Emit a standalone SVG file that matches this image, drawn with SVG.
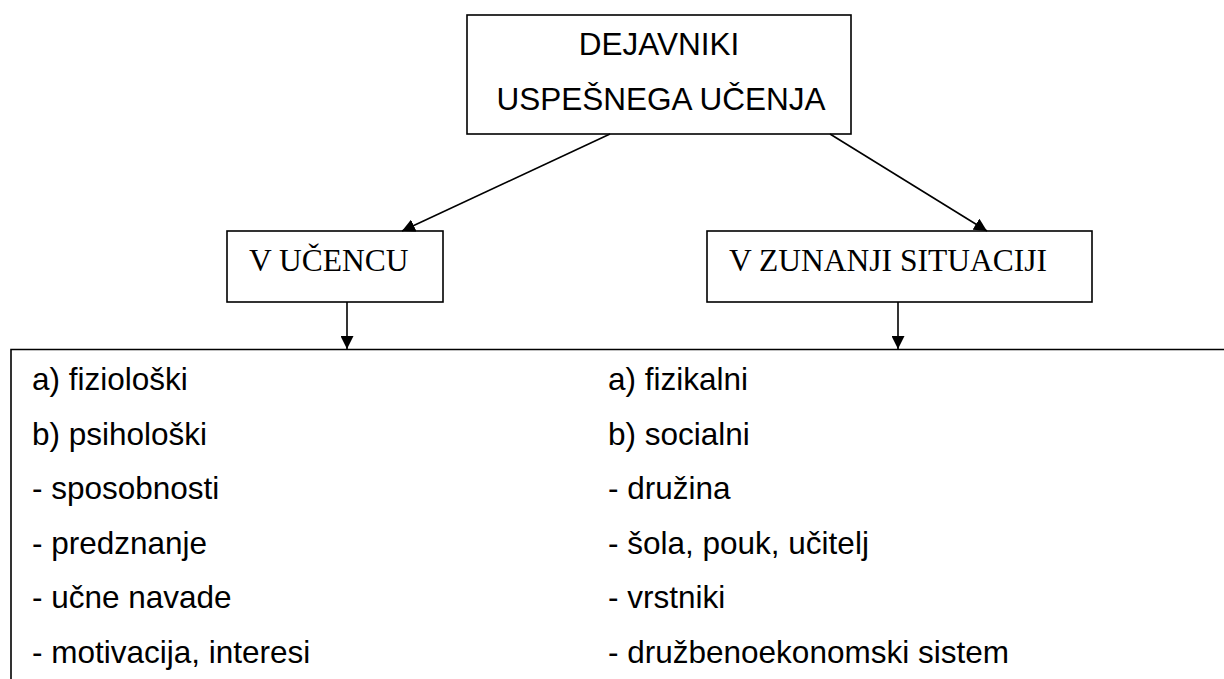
<svg xmlns="http://www.w3.org/2000/svg" width="1224" height="679" viewBox="0 0 1224 679">
<style>
.box{fill:#fff;stroke:#000;stroke-width:1.6}
.edge{fill:none;stroke:#000;stroke-width:1.6}
.title{font-family:"Liberation Sans",Arial,sans-serif;font-size:31.5px;fill:#000;text-anchor:middle}
.tnr{font-family:"Liberation Serif","Times New Roman",serif;font-size:31.5px;fill:#000}
.item{font-family:"Liberation Sans",Arial,sans-serif;font-size:31.5px;fill:#000}
</style>
<defs>
<marker id="arr" viewBox="0 0 13 13" refX="13" refY="6.5" markerWidth="13" markerHeight="13" markerUnits="userSpaceOnUse" orient="auto">
<path d="M0,0 L13,6.5 L0,13 Z" fill="#000"/>
</marker>
</defs>
<rect width="1224" height="679" fill="#fff"/>
<g id="root">
<rect class="box" x="467" y="15" width="384" height="119"/>
<text class="title" x="659" y="55">DEJAVNIKI</text>
<text class="title" x="661" y="110">USPEŠNEGA UČENJA</text>
</g>
<g id="ucenec">
<rect class="box" x="227" y="231" width="216" height="71"/>
<text class="tnr" x="249" y="271">V UČENCU</text>
</g>
<g id="zunanja">
<rect class="box" x="707" y="231" width="385" height="71"/>
<text class="tnr" x="729" y="271">V ZUNANJI SITUACIJI</text>
</g>
<g id="seznam">
<path class="edge" d="M11,679 V349.5 H1224"/>
<text class="item" x="32" y="390">a) fiziološki</text>
<text class="item" x="32" y="444.5">b) psihološki</text>
<text class="item" x="32" y="499">- sposobnosti</text>
<text class="item" x="32" y="553.5">- predznanje</text>
<text class="item" x="32" y="608">- učne navade</text>
<text class="item" x="32" y="662.5">- motivacija, interesi</text>
<text class="item" x="608" y="390">a) fizikalni</text>
<text class="item" x="608" y="444.5">b) socialni</text>
<text class="item" x="608" y="499">- družina</text>
<text class="item" x="608" y="553.5">- šola, pouk, učitelj</text>
<text class="item" x="608" y="608">- vrstniki</text>
<text class="item" x="608" y="662.5">- družbenoekonomski sistem</text>
</g>
<g id="connectors">
<line class="edge" x1="610" y1="134" x2="402" y2="231" marker-end="url(#arr)"/>
<line class="edge" x1="830" y1="134" x2="987" y2="231" marker-end="url(#arr)"/>
<line class="edge" x1="347" y1="302" x2="347" y2="349" marker-end="url(#arr)"/>
<line class="edge" x1="898" y1="302" x2="898" y2="349" marker-end="url(#arr)"/>
</g>
</svg>
